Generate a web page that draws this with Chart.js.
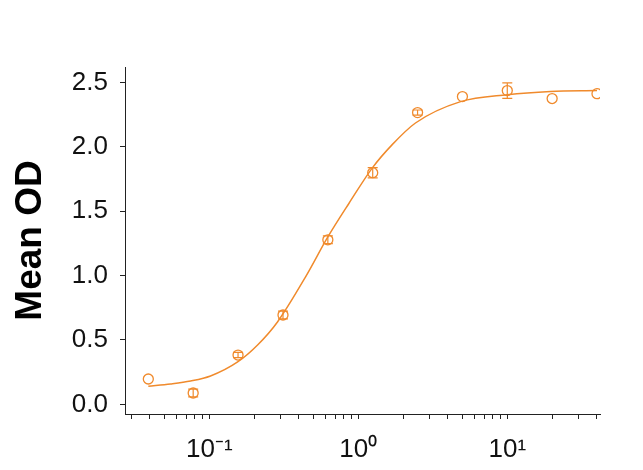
<!DOCTYPE html>
<html>
<head>
<meta charset="utf-8">
<script src="https://cdn.jsdelivr.net/npm/chart.js@4/dist/chart.umd.min.js"></script>
<style>
  html, body { margin: 0; padding: 0; background: #ffffff; }
  #wrap { width: 643px; height: 470px; position: relative; }
</style>
</head>
<body>
<div id="wrap"><canvas id="c" width="643" height="470"></canvas></div>
<script>
// ---- data ----
const concentrations = [0.039, 0.078, 0.156, 0.3125, 0.625, 1.25, 2.5, 5, 10, 20, 40];
const meanOD         = [0.197, 0.088, 0.383, 0.694, 1.278, 1.799, 2.266, 2.39, 2.437, 2.375, 2.413];
const errOD          = [0.0,   0.03,  0.02,  0.03,  0.03,  0.04,  0.02,  0.0,  0.06,  0.0,   0.0];

const fitX = [0.039, 0.055, 0.075, 0.102, 0.155, 0.211, 0.287, 0.443, 0.625, 0.865, 1.24, 1.69, 2.42, 4.86, 10.0, 19.5, 40];
const fitY = [0.140, 0.158, 0.181, 0.220, 0.329, 0.461, 0.640, 0.990, 1.300, 1.560, 1.835, 2.017, 2.185, 2.351, 2.405, 2.430, 2.437];

const yTicks = [0, 0.5, 1.0, 1.5, 2.0, 2.5];
const xTicks = [0.03, 0.04, 0.05, 0.06, 0.07, 0.08, 0.09, 0.1, 0.2, 0.3, 0.4, 0.5, 0.6, 0.7, 0.8, 0.9, 1, 2, 3, 4, 5, 6, 7, 8, 9, 10, 20, 30, 40];
const xTickLabels = { 0.1: '10\u207B\u00B9', 1: '10\u2070', 10: '10\u00B9' };
const yTitle = 'Mean OD';

const ORANGE = '#F08A2C';
const AXIS = '#222222';
const FONT = "'Liberation Sans', Arial, Helvetica, sans-serif";

const errorBars = {
  id: 'errorBars',
  afterDatasetsDraw(chart) {
    const xs = chart.scales.x, ys = chart.scales.y;
    const ctx = chart.ctx;
    ctx.save();
    ctx.strokeStyle = ORANGE;
    ctx.lineWidth = 1.2;
    concentrations.forEach((c, i) => {
      const e = errOD[i];
      if (!e) return;
      const px = xs.getPixelForValue(c);
      const top = ys.getPixelForValue(meanOD[i] + e);
      const bot = ys.getPixelForValue(meanOD[i] - e);
      ctx.beginPath();
      ctx.moveTo(px, top); ctx.lineTo(px, bot);
      ctx.moveTo(px - 5, top); ctx.lineTo(px + 5, top);
      ctx.moveTo(px - 5, bot); ctx.lineTo(px + 5, bot);
      ctx.stroke();
    });
    ctx.restore();
  }
};

new Chart(document.getElementById('c'), {
  type: 'scatter',
  data: {
    datasets: [
      {
        type: 'line',
        data: fitX.map((x, i) => ({ x: x, y: fitY[i] })),
        borderColor: ORANGE,
        borderWidth: 1.5,
        pointRadius: 0,
        fill: false,
        cubicInterpolationMode: 'monotone'
      },
      {
        type: 'scatter',
        data: concentrations.map((x, i) => ({ x: x, y: meanOD[i] })),
        borderColor: ORANGE,
        backgroundColor: 'rgba(0,0,0,0)',
        borderWidth: 1.3,
        pointRadius: 5,
        pointStyle: 'circle'
      }
    ]
  },
  options: {
    responsive: false,
    animation: false,
    devicePixelRatio: 1,
    layout: { padding: { left: 0, right: 43, top: 67, bottom: 0 } },
    plugins: { legend: { display: false }, tooltip: { enabled: false } },
    scales: {
      x: {
        type: 'logarithmic',
        min: 0.0272,
        max: 41.9,
        afterBuildTicks(scale) { scale.ticks = xTicks.map(v => ({ value: v })); },
        afterFit(scale) { scale.height = 56; },
        border: { display: true, color: AXIS, width: 1 },
        grid: { drawOnChartArea: false, drawTicks: true, tickLength: 5, color: AXIS, tickColor: AXIS },
        ticks: {
          autoSkip: false,
          maxRotation: 0,
          padding: 15,
          color: '#111111',
          font: { family: FONT, size: 26 },
          callback(v) { return xTickLabels[v] || ''; }
        }
      },
      y: {
        type: 'linear',
        min: -0.075,
        max: 2.62,
        afterBuildTicks(scale) { scale.ticks = yTicks.map(v => ({ value: v })); },
        afterFit(scale) { scale.width = 125; },
        border: { display: true, color: AXIS, width: 1 },
        grid: { drawOnChartArea: false, drawTicks: true, tickLength: 5, color: AXIS, tickColor: AXIS },
        title: {
          display: true,
          text: yTitle,
          color: '#000000',
          font: { family: FONT, size: 37, weight: 'bold' },
          padding: { top: 9, bottom: 0 }
        },
        ticks: {
          padding: 12,
          color: '#111111',
          font: { family: FONT, size: 26 },
          callback(v) { return Number(v).toFixed(1); }
        }
      }
    }
  },
  plugins: [errorBars]
});
</script>
</body>
</html>
